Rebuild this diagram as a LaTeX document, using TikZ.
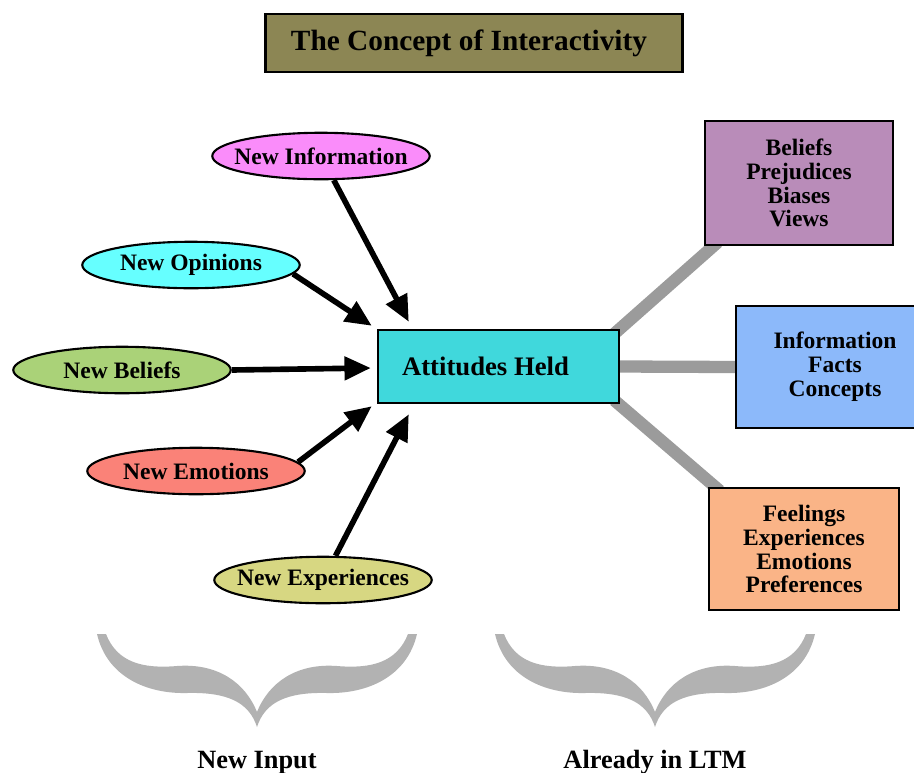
\documentclass[tikz,border=0pt]{standalone}
\usepackage{fontspec}
\setmainfont{Liberation Serif}
\usepackage{xcolor}
\usepackage{tikz}
\usetikzlibrary{positioning, calc, arrows.meta, backgrounds, shapes.geometric}
\definecolor{TitleOlive}{RGB}{140,134,84}
\definecolor{InfoPink}{RGB}{250,140,250}
\definecolor{OpinCyan}{RGB}{102,255,255}
\definecolor{BelGreen}{RGB}{170,210,120}
\definecolor{EmoRed}{RGB}{250,130,120}
\definecolor{ExpKhaki}{RGB}{215,215,130}
\definecolor{AttTurq}{RGB}{64,216,220}
\definecolor{BelMauve}{RGB}{185,140,185}
\definecolor{InfoBlue}{RGB}{140,185,250}
\definecolor{FeelPeach}{RGB}{250,180,135}
\definecolor{LinkGray}{RGB}{155,155,155}
\definecolor{BraceGray}{RGB}{178,178,178}
\tikzset{
    inputnode/.style={
        ellipse, draw, line width=1.2pt, minimum width=4.35cm, minimum height=0.93cm,
        inner xsep=-0.45cm, inner ysep=0pt, font=\fontsize{13.4}{14}\selectfont\bfseries
    },
    ltmbox/.style={
        rectangle, draw, line width=1.4pt, align=center, inner sep=0pt,
        font=\fontsize{13.4}{13.6}\selectfont\bfseries
    },
    inarrow/.style={
        -{Triangle[length=15pt,width=13pt]}, line width=3.2pt, black
    },
    ltmlink/.style={
        line width=7pt, LinkGray
    },
    bottomlabel/.style={
        anchor=base, font=\fontsize{15}{16}\selectfont\bfseries
    },
    curlybrace/.pic={
        \fill[BraceGray] (0,0) .. controls (-8,-25) and (-30,-35) .. (-70,-34)
            .. controls (-110,-33) and (-150,-50) .. (-160,-93) -- (-151,-93)
            .. controls (-140,-65) and (-115,-58) .. (-80,-61)
            .. controls (-40,-64) and (-12,-45) .. (0,-15)
            .. controls (12,-45) and (40,-64) .. (80,-61)
            .. controls (115,-58) and (140,-65) .. (151,-93) -- (160,-93)
            .. controls (150,-50) and (110,-33) .. (70,-34)
            .. controls (30,-35) and (8,-25) .. (0,0) -- cycle;
    }
}

\begin{document}
\begin{tikzpicture}[x=0.02cm, y=-0.02cm]
    \useasboundingbox (0,0) rectangle (914,772);

    % title
    \node[draw, line width=1.6pt, fill=TitleOlive, minimum width=8.34cm, minimum height=1.16cm,
          font=\fontsize{16.7}{18}\selectfont\bfseries] (title) at (474,43) {The Concept of Interactivity\hspace*{0.2cm}};

    % new input
    \node[inputnode, fill=InfoPink] (ninfo) at (321,156) {New Information};
    \node[inputnode, fill=OpinCyan] (nopin) at (191,265) {New Opinions};
    \node[inputnode, fill=BelGreen] (nbel) at (122,370) {New Beliefs};
    \node[inputnode, fill=EmoRed] (nemo) at (196,471) {New Emotions};
    \node[inputnode, fill=ExpKhaki] (nexp) at (323,580) {New Experiences};

    \node[draw, line width=1.4pt, fill=AttTurq, minimum width=4.82cm, minimum height=1.46cm,
          font=\fontsize{15.2}{16}\selectfont\bfseries] (att) at (498.5,366.5) {Attitudes Held\hspace*{0.52cm}};

    % already in LTM
    \node[ltmbox, fill=BelMauve, minimum width=3.76cm, minimum height=2.48cm] (bel) at (799,183)
        {Beliefs\\Prejudices\\Biases\\Views};
    \node[ltmbox, fill=InfoBlue, minimum width=3.96cm, minimum height=2.44cm] (info) at (835,367)
        {Information\\Facts\\Concepts};
    \node[ltmbox, fill=FeelPeach, minimum width=3.8cm, minimum height=2.44cm] (feel) at (804,549)
        {Feelings\\Experiences\\Emotions\\Preferences};

    \begin{scope}[on background layer]
        \draw[ltmlink] ([shift={(-6,5)}]att.north east) -- ([shift={(14,-4)}]bel.south west);
        \draw[ltmlink] (att.east) -- (info.west);
        \draw[ltmlink] ([shift={(-6,-4)}]att.south east) -- ([shift={(12,4)}]feel.north west);
    \end{scope}

    % arrow targets
    \coordinate (tinfo) at ([shift={(32,-7)}]att.north west);
    \coordinate (topin) at ([shift={(-5,-3)}]att.north west);
    \coordinate (tbel) at ([shift={(-6,1.5)}]att.west);
    \coordinate (temo) at ([shift={(-5,2)}]att.south west);
    \coordinate (texp) at ([shift={(32,10)}]att.south west);

    \draw[inarrow] (ninfo) -- (tinfo);
    \draw[inarrow] (nopin.-5) -- (topin);
    \draw[inarrow] (nbel.east) -- (tbel);
    \draw[inarrow] (nemo.5) -- (temo);
    \draw[inarrow] (nexp) -- (texp);

    % braces
    \pic at (257,727) {curlybrace};
    \pic at (655,727) {curlybrace};
    \node[bottomlabel] (newin) at (257,768) {New Input};
    \node[bottomlabel] (inltm) at (655,768) {Already in LTM};
\end{tikzpicture}
\end{document}
